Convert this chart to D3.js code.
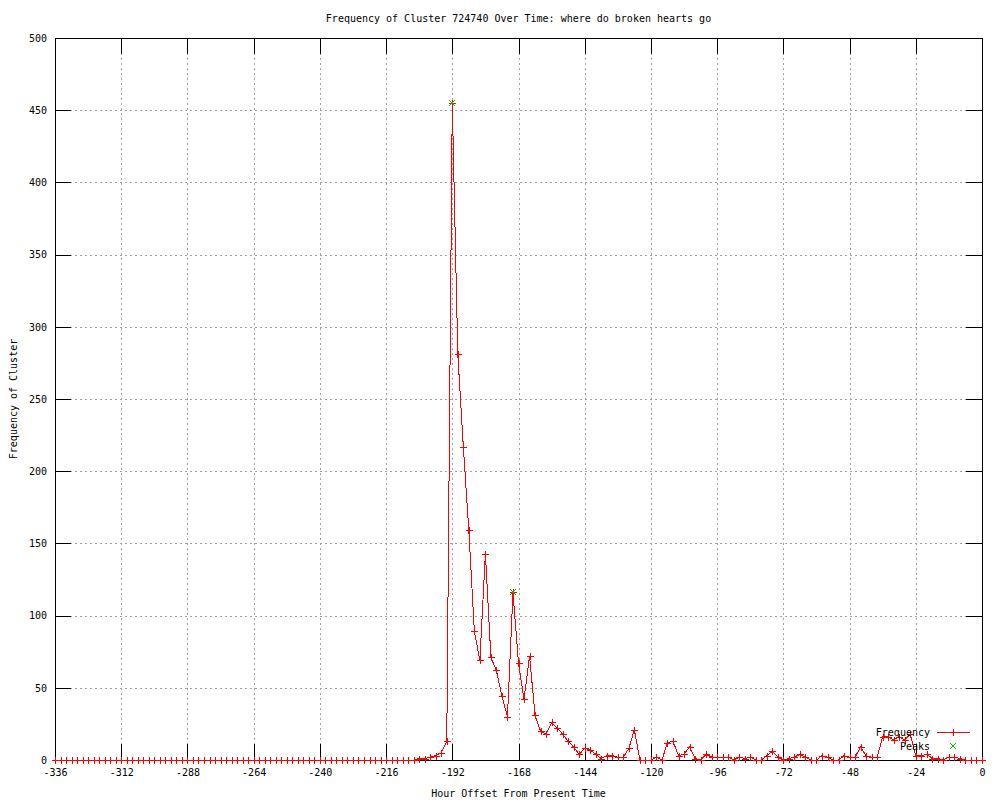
<!DOCTYPE html>
<html>
<head>
<meta charset="utf-8">
<script src="https://cdn.jsdelivr.net/npm/d3@7"></script>
<style>
  body { margin: 0; background: #fff; }
  text { font-family: "DejaVu Sans Mono", monospace; font-size: 10px; fill: #000; }
</style>
</head>
<body>
<div id="chart"></div>
<script>
// hourly samples, every 2 hours from -336 to 0
var hours = d3.range(-336, 1, 2);
var frequency = [
  0, 0, 0, 0, 0, 0, 0, 0, 0, 0, 0, 0, 0, 0, 0, 0, 0, 0, 0, 0, 0, 0,
  0, 0, 0, 0, 0, 0, 0, 0, 0, 0, 0, 0, 0, 0, 0, 0, 0, 0, 0, 0, 0, 0,
  0, 0, 0, 0, 0, 0, 0, 0, 0, 0, 0, 0, 0, 0, 0, 0, 0, 0, 0, 0, 0, 0,
  1, 1, 2, 3, 5, 13,
  455, 281, 217, 159, 89, 69, 143, 71, 62, 44,
  30, 116, 67, 42, 72, 31, 20, 18, 26, 22,
  18, 13, 9, 4, 8, 7, 4, 1, 3, 3,
  2, 2, 8, 21, 0, 0, 0, 2, 0, 12,
  13, 3, 4, 9, 1, 0, 4, 2, 2, 2,
  2, 0, 2, 1, 2, 0, 0, 3, 6, 2,
  0, 1, 2, 4, 2, 0, 0, 3, 2, 0,
  0, 3, 2, 2, 9, 3, 2, 2, 16, 16,
  14, 16, 14, 18, 3, 3, 4, 1, 1, 0,
  2, 2, 1, 0, 0, 0, 0
];
var peakHours = [-192, -170];
var peakValues = [455, 116];
var xTicks = [-336, -312, -288, -264, -240, -216, -192, -168, -144, -120, -96, -72, -48, -24, 0];
var yTicks = [0, 50, 100, 150, 200, 250, 300, 350, 400, 450, 500];

var data = hours.map(function(h, i) { return {hour: h, value: frequency[i]}; });
var peaks = peakHours.map(function(h, i) { return {hour: h, value: peakValues[i]}; });

var W = 1000, H = 800;
var margin = {top: 38, right: 18, bottom: 40, left: 55},
    width = W - margin.left - margin.right,
    height = H - margin.top - margin.bottom;
var tickLen = 16;

var x = d3.scaleLinear().domain([-336, 0]).range([0, width]);
var y = d3.scaleLinear().domain([0, 500]).range([height, 0]);

var svg = d3.select("#chart").append("svg")
    .attr("width", W)
    .attr("height", H);

var g = svg.append("g")
    .attr("transform", "translate(" + margin.left + "," + margin.top + ")");

// grid
g.append("g").selectAll("line")
  .data(xTicks.filter(function(d) { return d > -336 && d < 0; }))
  .enter().append("line")
    .attr("x1", function(d) { return Math.round(x(d)) + 0.5; })
    .attr("x2", function(d) { return Math.round(x(d)) + 0.5; })
    .attr("y1", 0).attr("y2", height)
    .style("stroke", "#a0a0a0")
    .style("stroke-dasharray", "2,3");
g.append("g").selectAll("line")
  .data(yTicks.filter(function(d) { return d > 0 && d < 500; }))
  .enter().append("line")
    .attr("y1", function(d) { return Math.round(y(d)) + 0.5; })
    .attr("y2", function(d) { return Math.round(y(d)) + 0.5; })
    .attr("x1", 0).attr("x2", width)
    .style("stroke", "#a0a0a0")
    .style("stroke-dasharray", "2,3");

// frequency line
var line = d3.line()
    .x(function(d) { return x(d.hour); })
    .y(function(d) { return y(d.value); });

g.append("path")
    .attr("d", line(data))
    .style("fill", "none")
    .style("stroke", "#ff0000")
    .style("stroke-width", 1)
    .style("shape-rendering", "crispEdges");

// axes: ticks pointing inward on all four sides, plus border
var xAxisB = d3.axisBottom(x).tickValues(xTicks).tickSizeInner(-tickLen).tickSizeOuter(0)
    .tickPadding(9).tickFormat(function(d) { return String(d); });
var xAxisT = d3.axisTop(x).tickValues(xTicks).tickSizeInner(-tickLen).tickSizeOuter(0)
    .tickFormat("");
var yAxisL = d3.axisLeft(y).tickValues(yTicks).tickSizeInner(-tickLen).tickSizeOuter(0)
    .tickPadding(8).tickFormat(function(d) { return String(d); });
var yAxisR = d3.axisRight(y).tickValues(yTicks).tickSizeInner(-tickLen).tickSizeOuter(0)
    .tickFormat("");

function styleAxis(sel) {
  sel.select(".domain").remove();
  sel.selectAll("line").style("stroke", "#000").style("shape-rendering", "crispEdges");
  sel.selectAll("text").style("font-family", "'DejaVu Sans Mono', monospace").style("font-size", "10px");
}

g.append("g").attr("transform", "translate(0," + height + ")").call(xAxisB).call(styleAxis);
g.append("g").call(xAxisT).call(styleAxis);
g.append("g").call(yAxisL).call(styleAxis);
g.append("g").attr("transform", "translate(" + width + ",0)").call(yAxisR).call(styleAxis);

g.append("rect")
    .attr("x", 0.5).attr("y", 0.5)
    .attr("width", width).attr("height", height)
    .style("fill", "none")
    .style("stroke", "#000")
    .style("shape-rendering", "crispEdges");

// point markers
var plus = "M-3.5,0H3.5M0,-3.5V3.5";
var cross = "M-3,-3L3,3M-3,3L3,-3";

g.append("g").selectAll("path")
  .data(data)
  .enter().append("path")
    .attr("transform", function(d) { return "translate(" + Math.round(x(d.hour)) + "," + Math.round(y(d.value)) + ")"; })
    .attr("d", plus)
    .style("stroke", "#ff0000")
    .style("fill", "none")
    .style("shape-rendering", "crispEdges");

g.append("g").selectAll("path")
  .data(peaks)
  .enter().append("path")
    .attr("transform", function(d) { return "translate(" + Math.round(x(d.hour)) + "," + Math.round(y(d.value)) + ")"; })
    .attr("d", cross)
    .style("stroke", "#00c000")
    .style("fill", "none");

// legend
var legend = g.append("g").attr("transform", "translate(" + (width - 52) + "," + (height - 28) + ")");
legend.append("text").attr("x", 0).attr("y", 0).attr("dy", "0.35em")
    .style("text-anchor", "end").text("Frequency");
legend.append("line").attr("x1", 7).attr("x2", 40).attr("y1", 0.5).attr("y2", 0.5)
    .style("stroke", "#ff0000");
legend.append("path").attr("transform", "translate(23,0)").attr("d", plus)
    .style("stroke", "#ff0000").style("shape-rendering", "crispEdges");
legend.append("text").attr("x", 0).attr("y", 14).attr("dy", "0.35em")
    .style("text-anchor", "end").text("Peaks");
legend.append("path").attr("transform", "translate(23,14)").attr("d", cross)
    .style("stroke", "#00c000");

// titles
svg.append("text")
    .attr("x", margin.left + width / 2).attr("y", 18).attr("dy", "0.35em")
    .style("text-anchor", "middle")
    .text("Frequency of Cluster 724740 Over Time: where do broken hearts go");

svg.append("text")
    .attr("x", margin.left + width / 2).attr("y", 793).attr("dy", "0.35em")
    .style("text-anchor", "middle")
    .text("Hour Offset From Present Time");

svg.append("text")
    .attr("transform", "rotate(-90)")
    .attr("x", -(margin.top + height / 2)).attr("y", 13).attr("dy", "0.35em")
    .style("text-anchor", "middle")
    .text("Frequency of Cluster");
</script>
</body>
</html>
